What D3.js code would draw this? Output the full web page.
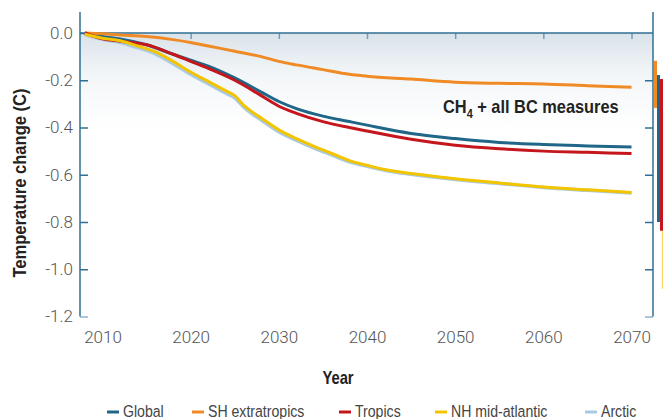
<!DOCTYPE html>
<html>
<head>
<meta charset="utf-8">
<script src="https://cdn.jsdelivr.net/npm/d3@7"></script>
<style>
  html, body { margin: 0; padding: 0; background: #fff; }
  svg { display: block; }
  text { font-family: "Liberation Sans", Arial, sans-serif; }
  .tick text { font-family: Roboto, "Liberation Sans", sans-serif; font-weight: 300; }
</style>
</head>
<body>
<svg id="chart" width="663" height="419"></svg>
<script>
// Temperature response to CH4 + all BC measures, by region
const years       = [2008, 2010, 2012, 2015, 2018, 2020, 2022, 2025, 2028, 2030, 2032, 2035, 2038, 2040, 2045, 2050, 2055, 2060, 2065, 2070];
const globalVals  = [0.0, -0.015, -0.025, -0.05, -0.09, -0.115, -0.14, -0.19, -0.25, -0.29, -0.32, -0.352, -0.375, -0.39, -0.425, -0.447, -0.463, -0.472, -0.478, -0.483];
const shExtraVals = [0.0, -0.003, -0.008, -0.015, -0.028, -0.04, -0.055, -0.077, -0.1, -0.12, -0.135, -0.155, -0.175, -0.183, -0.195, -0.208, -0.213, -0.216, -0.223, -0.23];
const tropicsVals = [0.0, -0.025, -0.035, -0.05, -0.09, -0.12, -0.15, -0.2, -0.265, -0.31, -0.34, -0.375, -0.4, -0.415, -0.45, -0.475, -0.49, -0.5, -0.505, -0.51];

const yearsNH     = [2008, 2010, 2012, 2014, 2016, 2018, 2020, 2022, 2024, 2025, 2026, 2027, 2028, 2030, 2032, 2034, 2036, 2038, 2040, 2042, 2045, 2050, 2055, 2060, 2065, 2070];
const nhAtlVals   = [-0.005, -0.022, -0.033, -0.055, -0.08, -0.12, -0.165, -0.205, -0.245, -0.265, -0.305, -0.335, -0.36, -0.41, -0.447, -0.48, -0.51, -0.54, -0.56, -0.578, -0.595, -0.617, -0.635, -0.652, -0.664, -0.675];
const arcticVals  = [-0.008, -0.027, -0.04, -0.062, -0.088, -0.13, -0.175, -0.215, -0.255, -0.275, -0.313, -0.343, -0.368, -0.418, -0.455, -0.487, -0.516, -0.545, -0.564, -0.581, -0.598, -0.62, -0.637, -0.654, -0.666, -0.677];

// 2070 uncertainty ranges [top, bottom]
const rangeNames  = ["SH extratropics", "Global", "NH mid-atlantic", "Tropics"];
const rangeLo     = [-0.118, -0.178, -0.23, -0.195];
const rangeHi     = [-0.317, -0.8, -1.083, -0.837];

const seriesNames  = ["Global", "SH extratropics", "Tropics", "NH mid-atlantic", "Arctic"];
const seriesColors = ["#1f6688", "#f08a24", "#c4161c", "#f2c500", "#a9c9e3"];

const yTicks = [0, -0.2, -0.4, -0.6, -0.8, -1.0, -1.2];
const xTicks = [2010, 2020, 2030, 2040, 2050, 2060, 2070];

const series = [
  { name: "Arctic",          x: yearsNH, v: arcticVals },
  { name: "Global",          x: years,   v: globalVals },
  { name: "SH extratropics", x: years,   v: shExtraVals },
  { name: "Tropics",         x: years,   v: tropicsVals },
  { name: "NH mid-atlantic", x: yearsNH, v: nhAtlVals }
];
const colorOf = d3.scaleOrdinal().domain(seriesNames).range(seriesColors);

const svg = d3.select("#chart");
const plotL = 80, plotR = 653, plotTopAxis = 12;
const x = d3.scaleLinear().domain([2010, 2070]).range([102.5, 631.5]);
const y = d3.scaleLinear().domain([0, -1.2]).range([33, 316.5]);
const axisColor = "#2f6f95";
const lightAxis = "#8db4cf";

// background wash below the zero line
const defs = svg.append("defs");
const grad = defs.append("linearGradient").attr("id", "wash").attr("x1", 0).attr("y1", 0).attr("x2", 0).attr("y2", 1);
grad.append("stop").attr("offset", "0%").attr("stop-color", "#dae3ea");
grad.append("stop").attr("offset", "45%").attr("stop-color", "#f3f6f8");
grad.append("stop").attr("offset", "100%").attr("stop-color", "#ffffff");
svg.append("rect")
  .attr("x", plotL).attr("y", y(0))
  .attr("width", plotR - plotL).attr("height", y(-0.4) - y(0))
  .attr("fill", "url(#wash)");

// left axis
const yAxisL = d3.axisLeft(y).tickValues(yTicks).tickSizeInner(-8).tickSizeOuter(0).tickPadding(7)
  .tickFormat(d => d3.format(".1f")(d).replace("−", "-"));
const gL = svg.append("g").attr("transform", `translate(${plotL},0)`).call(yAxisL);
gL.select(".domain").remove();
gL.selectAll(".tick line").attr("stroke", d => d === -1.2 ? lightAxis : axisColor).attr("stroke-width", 1.5);
gL.selectAll(".tick text").attr("fill", "#555").style("font-size", "17px");

// right axis (ticks only)
const yAxisR = d3.axisRight(y).tickValues(yTicks.slice(1)).tickSizeInner(-8).tickSizeOuter(0).tickFormat("");
const gR = svg.append("g").attr("transform", `translate(${plotR},0)`).call(yAxisR);
gR.select(".domain").remove();
gR.selectAll(".tick line").attr("stroke", d => d === -1.2 ? lightAxis : axisColor).attr("stroke-width", 1.5);

// vertical frame lines
svg.append("line").attr("x1", plotL).attr("x2", plotL).attr("y1", plotTopAxis).attr("y2", y(-1.2))
  .attr("stroke", axisColor).attr("stroke-width", 1.5);
svg.append("line").attr("x1", plotR).attr("x2", plotR).attr("y1", plotTopAxis).attr("y2", y(-1.2))
  .attr("stroke", axisColor).attr("stroke-width", 1.5);

// zero line with year ticks hanging below
const xAxisTop = d3.axisBottom(x).tickValues(xTicks).tickSizeInner(6).tickSizeOuter(0).tickFormat("");
const gT = svg.append("g").attr("transform", `translate(0,${y(0)})`).call(xAxisTop);
gT.select(".domain").remove();
gT.selectAll(".tick line").attr("stroke", "#6f9dbd").attr("stroke-width", 1.5);
svg.append("line").attr("x1", plotL).attr("x2", plotR).attr("y1", y(0)).attr("y2", y(0))
  .attr("stroke", axisColor).attr("stroke-width", 1.5);

// year labels
const xAxisBot = d3.axisBottom(x).tickValues(xTicks).tickSize(0).tickPadding(14).tickFormat(d3.format("d"));
const gB = svg.append("g").attr("transform", `translate(0,${y(-1.2)})`).call(xAxisBot);
gB.select(".domain").remove();
gB.selectAll(".tick text").attr("fill", "#555").style("font-size", "17px");

// 2070 range bars just outside the frame
const barW = 3;
const barX = slot => plotR + 1 + barW * slot;
const barSlot = { "SH extratropics": 0, "Global": 1, "Tropics": 2, "NH mid-atlantic": 2.6 };
const barDraw = ["SH extratropics", "Global", "NH mid-atlantic", "Tropics"];
barDraw.forEach(name => {
  const i = rangeNames.indexOf(name);
  svg.append("rect")
    .attr("x", barX(barSlot[name]))
    .attr("y", y(rangeLo[i]))
    .attr("width", barW)
    .attr("height", y(rangeHi[i]) - y(rangeLo[i]))
    .attr("fill", colorOf(name))
    .attr("opacity", name === "NH mid-atlantic" ? 0.6 : 1);
});

// series lines
const line = d3.line().curve(d3.curveMonotoneX);
svg.append("g").selectAll("path").data(series).join("path")
  .attr("d", s => line(s.x.map((yr, i) => [x(yr), y(s.v[i])])))
  .attr("fill", "none")
  .attr("stroke", s => colorOf(s.name))
  .attr("stroke-width", s => s.name === "Arctic" ? 3.5 : 3)
  .attr("stroke-linejoin", "round");

// annotation
const ann = svg.append("text").attr("transform", "translate(443,113) scale(0.91,1)")
  .attr("fill", "#222").style("font-size", "18px").style("font-weight", "bold");
ann.append("tspan").text("CH");
ann.append("tspan").attr("dy", 5).style("font-size", "12px").text("4");
ann.append("tspan").attr("dy", -5).text(" + all BC measures");

// axis titles (condensed bold)
svg.append("text").attr("transform", "translate(338,384) scale(0.82,1)").attr("text-anchor", "middle")
  .attr("fill", "#222").style("font-size", "18px").style("font-weight", "bold").text("Year");
svg.append("text").attr("transform", "translate(26,183) rotate(-90) scale(0.92,1)").attr("text-anchor", "middle")
  .attr("fill", "#222").style("font-size", "18px").style("font-weight", "bold").text("Temperature change (C)");

// legend (condensed)
const legendX = [107, 192, 339, 435, 585];
const lg = svg.append("g").selectAll("g").data(seriesNames).join("g")
  .attr("transform", (d, i) => `translate(${legendX[i]},0)`);
lg.append("line").attr("x1", 0).attr("x2", 12).attr("y1", 412).attr("y2", 412)
  .attr("stroke", d => colorOf(d)).attr("stroke-width", 3);
lg.append("text").attr("transform", "translate(16,417) scale(0.83,1)")
  .attr("fill", "#444").style("font-size", "17px").text(d => d);
</script>
</body>
</html>
